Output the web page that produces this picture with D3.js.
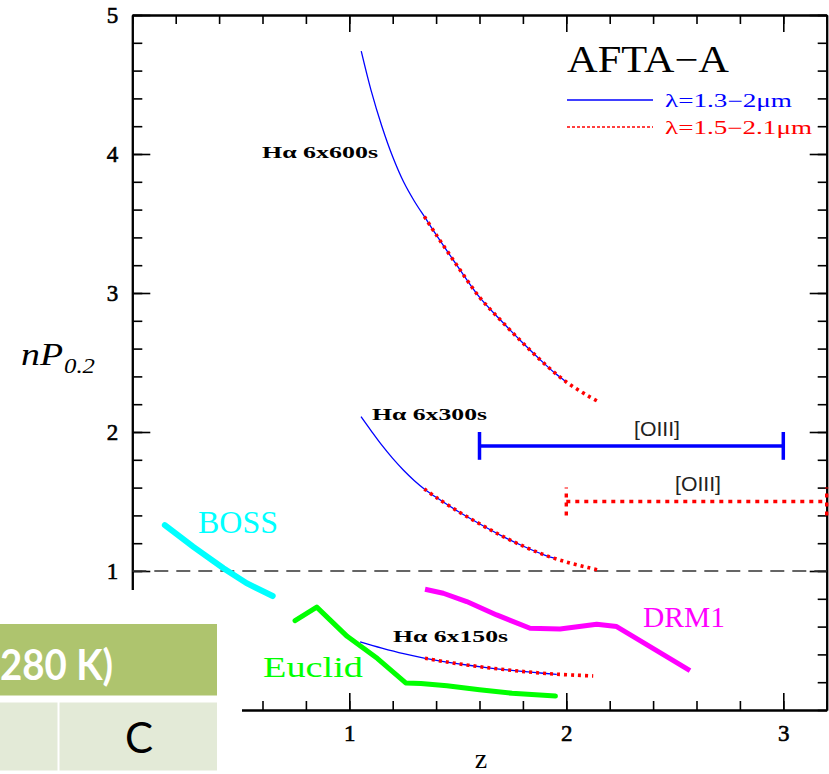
<!DOCTYPE html>
<html>
<head>
<meta charset="utf-8">
<script src="https://cdn.jsdelivr.net/npm/d3@7"></script>
<style>
  html, body { margin: 0; padding: 0; background: #fff; }
  svg { display: block; }
</style>
</head>
<body>
<svg id="chart" width="829" height="774"></svg>
<script>
// ---------------- data ----------------
const xDomain = [0, 3.2];
const yDomain = [0, 5];
const xMajorTicks = [1, 2, 3];
const yMajorTicks = [1, 2, 3, 4, 5];
const minorStep = 0.2;

// H-alpha curves: [z, nP0.2]
const ha600Blue = [[1.055,4.74],[1.10,4.46],[1.15,4.20],[1.20,3.98],[1.25,3.80],[1.30,3.66],[1.35,3.54],[1.40,3.42],[1.50,3.19],[1.60,2.97],[1.70,2.80],[1.80,2.64],[1.90,2.49],[1.95,2.42],[2.00,2.36]];
const ha600Red  = [[1.346,3.55],[1.40,3.42],[1.50,3.19],[1.60,2.97],[1.70,2.80],[1.80,2.64],[1.90,2.49],[2.00,2.36],[2.10,2.26],[2.146,2.22]];
const ha300Blue = [[1.054,2.11],[1.10,2.01],[1.15,1.905],[1.20,1.81],[1.25,1.725],[1.30,1.65],[1.35,1.585],[1.40,1.53],[1.50,1.43],[1.60,1.34],[1.70,1.255],[1.80,1.18],[1.90,1.115],[1.95,1.09]];
const ha300Red  = [[1.346,1.59],[1.40,1.53],[1.50,1.43],[1.60,1.34],[1.70,1.255],[1.80,1.18],[1.90,1.115],[2.00,1.065],[2.10,1.025],[2.147,1.008]];
const ha150Blue = [[1.05,0.49],[1.15,0.445],[1.25,0.405],[1.35,0.372],[1.45,0.345],[1.55,0.322],[1.65,0.302],[1.75,0.285],[1.85,0.27],[1.956,0.257]];
const ha150Red  = [[1.349,0.372],[1.45,0.345],[1.55,0.322],[1.65,0.302],[1.75,0.285],[1.85,0.27],[1.95,0.258],[2.05,0.25],[2.124,0.245]];

const boss   = [[0.15,1.33],[0.28,1.175],[0.42,1.02],[0.527,0.912],[0.647,0.82]];
const euclid = [[0.75,0.643],[0.85,0.74],[0.99,0.53],[1.13,0.37],[1.26,0.195],[1.33,0.19],[1.45,0.175],[1.60,0.145],[1.75,0.12],[1.95,0.10]];
const drm1   = [[1.349,0.869],[1.433,0.84],[1.541,0.78],[1.679,0.684],[1.833,0.588],[1.971,0.583],[2.14,0.617],[2.232,0.60],[2.309,0.528],[2.57,0.283]];

// [OIII] ranges: [zMin, zMax, level, capHalf]
const oiiiBlue = [1.6, 3.0, 1.9, 0.1];
const oiiiRed  = [2.0, 3.2, 1.5, 0.1];
const refLevel = 1;

// ---------------- layout ----------------
const svg = d3.select("#chart");
const x = d3.scaleLinear(xDomain, [132.3, 826.7]);
const y = d3.scaleLinear(yDomain, [710, 15]);
const minorX = d3.range(0, 3.2001, minorStep).map(v => +v.toFixed(2));
const minorY = d3.range(0, 5.0001, minorStep).map(v => +v.toFixed(2));

const serif = "'Liberation Serif', 'DejaVu Serif', serif";

function styleAxis(g) {
  g.select(".domain").attr("stroke", "#000").attr("stroke-width", 2);
  g.selectAll(".tick line").attr("stroke", "#000").attr("stroke-width", 1.6);
  g.selectAll(".tick text").attr("fill", "#000").attr("font-family", serif).attr("font-size", 23)
    .attr("stroke", "#000").attr("stroke-width", 0.6);
}

// minor ticks
svg.append("g").attr("transform", `translate(0,${y(0)})`)
  .call(d3.axisBottom(x).tickValues(minorX).tickSize(-9).tickSizeOuter(0).tickFormat(""))
  .call(styleAxis);
svg.append("g").attr("transform", `translate(0,${y(5)})`)
  .call(d3.axisTop(x).tickValues(minorX).tickSize(-9).tickSizeOuter(0).tickFormat(""))
  .call(styleAxis);
svg.append("g").attr("transform", `translate(${x(0)},0)`)
  .call(d3.axisLeft(y).tickValues(minorY).tickSize(-10).tickSizeOuter(0).tickFormat(""))
  .call(styleAxis);
svg.append("g").attr("transform", `translate(${x(3.2)},0)`)
  .call(d3.axisRight(y).tickValues(minorY).tickSize(-9).tickSizeOuter(0).tickFormat(""))
  .call(styleAxis);

// major ticks
svg.append("g").attr("transform", `translate(0,${y(0)})`)
  .call(d3.axisBottom(x).tickValues(xMajorTicks).tickSize(-17).tickSizeOuter(0).tickPadding(15).tickFormat(d3.format("d")))
  .call(styleAxis);
svg.append("g").attr("transform", `translate(0,${y(5)})`)
  .call(d3.axisTop(x).tickValues(xMajorTicks).tickSize(-17).tickSizeOuter(0).tickFormat(""))
  .call(styleAxis);
svg.append("g").attr("transform", `translate(${x(0)},0)`)
  .call(d3.axisLeft(y).tickValues(yMajorTicks).tickSize(-18).tickSizeOuter(0).tickPadding(14).tickFormat(d3.format("d")))
  .call(styleAxis);
svg.append("g").attr("transform", `translate(${x(3.2)},0)`)
  .call(d3.axisRight(y).tickValues(yMajorTicks).tickSize(-17).tickSizeOuter(0).tickFormat(""))
  .call(styleAxis);

// clip
svg.append("clipPath").attr("id", "plot")
  .append("rect").attr("x", x(0)).attr("y", y(5)).attr("width", x(3.2) - x(0) + 3).attr("height", y(0) - y(5));
const plot = svg.append("g").attr("clip-path", "url(#plot)");

// reference dashed line
plot.append("line")
  .attr("x1", x(0)).attr("x2", x(3.2)).attr("y1", y(refLevel)).attr("y2", y(refLevel))
  .attr("stroke", "#333").attr("stroke-width", 1.6).attr("stroke-dasharray", "14,8");

const smooth = d3.line().x(d => x(d[0])).y(d => y(d[1])).curve(d3.curveCatmullRom);
const straight = d3.line().x(d => x(d[0])).y(d => y(d[1]));

// survey curves
plot.append("path").attr("d", straight(boss)).attr("fill", "none")
  .attr("stroke", "#00FFFF").attr("stroke-width", 6).attr("stroke-linecap", "round");
plot.append("path").attr("d", straight(euclid)).attr("fill", "none")
  .attr("stroke", "#00FF00").attr("stroke-width", 5).attr("stroke-linejoin", "round").attr("stroke-linecap", "round");
plot.append("path").attr("d", straight(drm1)).attr("fill", "none")
  .attr("stroke", "#FF00FF").attr("stroke-width", 5).attr("stroke-linejoin", "round");

// H-alpha curves
[ha600Blue, ha300Blue, ha150Blue].forEach(s => {
  plot.append("path").attr("d", smooth(s)).attr("fill", "none")
    .attr("stroke", "#0000FF").attr("stroke-width", 1.3);
});
[ha600Red, ha300Red, ha150Red].forEach(s => {
  plot.append("path").attr("d", smooth(s)).attr("fill", "none")
    .attr("stroke", "#FF0000").attr("stroke-width", 3.6).attr("stroke-dasharray", "3,4");
});

// [OIII] ranges
function range(r, color, width, dash) {
  const [z0, z1, lv, h] = r;
  const g = plot.append("g").attr("stroke", color).attr("stroke-width", width).attr("fill", "none");
  if (dash) g.attr("stroke-dasharray", dash);
  g.append("line").attr("x1", x(z0)).attr("x2", x(z1)).attr("y1", y(lv)).attr("y2", y(lv));
  g.append("line").attr("x1", x(z0)).attr("x2", x(z0)).attr("y1", y(lv - h)).attr("y2", y(lv + h));
  g.append("line").attr("x1", x(z1)).attr("x2", x(z1)).attr("y1", y(lv - h)).attr("y2", y(lv + h));
}
range(oiiiBlue, "#0000FF", 3.5, null);
range(oiiiRed, "#FF0000", 3.4, "4,5");

// labels
const sans = "'Liberation Sans', Arimo, sans-serif";
function label(txt, xp, yp, opts) {
  const t = svg.append("text").attr("x", xp).attr("y", yp).text(txt)
    .attr("font-family", opts.font || serif).attr("font-size", opts.size)
    .attr("fill", opts.color || "#000");
  if (opts.weight) t.attr("font-weight", opts.weight);
  if (opts.anchor) t.attr("text-anchor", opts.anchor);
  if (opts.len) t.attr("textLength", opts.len).attr("lengthAdjust", "spacingAndGlyphs");
  if (opts.style) t.attr("font-style", opts.style);
  return t;
}
label("Hα 6x600s", 262, 158, {size: 16, weight: "bold", len: 116});
label("Hα 6x300s", 372, 420, {size: 16, weight: "bold", len: 115});
label("Hα 6x150s", 393, 642, {size: 16, weight: "bold", len: 115});
label("[OIII]", 657, 436, {size: 20, font: sans, color: "#222", anchor: "middle", len: 46});
label("[OIII]", 698, 491, {size: 20, font: sans, color: "#222", anchor: "middle", len: 46});
label("BOSS", 198, 533, {size: 31, color: "#00FFFF", len: 80});
label("Euclid", 263, 677, {size: 30, color: "#00FF00", len: 100});
label("DRM1", 643, 627, {size: 29, color: "#FF00FF", len: 82});

// legend
label("AFTA−A", 567, 72, {size: 37, len: 162});
svg.append("line").attr("x1", 567).attr("x2", 653).attr("y1", 100).attr("y2", 100)
  .attr("stroke", "#0000FF").attr("stroke-width", 1.5);
svg.append("line").attr("x1", 567).attr("x2", 653).attr("y1", 127).attr("y2", 127)
  .attr("stroke", "#FF0000").attr("stroke-width", 1.5).attr("stroke-dasharray", "3,2");
label("λ=1.3−2μm", 665, 107, {size: 18, color: "#0000FF", len: 127});
label("λ=1.5−2.1μm", 665, 134, {size: 18, color: "#FF0000", len: 147});

// axis titles
const yt = svg.append("text").attr("x", 21).attr("y", 365)
  .attr("font-family", serif).attr("font-style", "italic").attr("font-size", 31).attr("fill", "#000");
yt.append("tspan").text("nP").attr("textLength", 42).attr("lengthAdjust", "spacingAndGlyphs");
yt.append("tspan").text("0.2").attr("font-size", 21).attr("dy", 8).attr("dx", 1)
  .attr("textLength", 31).attr("lengthAdjust", "spacingAndGlyphs");
label("z", 481, 768, {size: 28, anchor: "middle"});

// pasted table fragment (bottom-left)
const ov = svg.append("g");
ov.append("rect").attr("x", 0).attr("y", 590).attr("width", 242).attr("height", 184).attr("fill", "#fff");
ov.append("rect").attr("x", 0).attr("y", 624).attr("width", 217).attr("height", 71.5).attr("fill", "#AEC46E");
ov.append("rect").attr("x", 0).attr("y", 702.5).attr("width", 57.5).attr("height", 68).attr("fill", "#E3EAD7");
ov.append("rect").attr("x", 59.5).attr("y", 702.5).attr("width", 157.5).attr("height", 68).attr("fill", "#E3EAD7");
ov.append("text").attr("x", 0).attr("y", 680).text("280 K)")
  .attr("font-family", "Lato, 'Open Sans', sans-serif").attr("font-weight", "bold")
  .attr("font-size", 42).attr("fill", "#fff").attr("textLength", 113).attr("lengthAdjust", "spacingAndGlyphs");
ov.append("text").attr("x", 139).attr("y", 753).text("C").attr("text-anchor", "middle")
  .attr("font-family", "Lato, 'Open Sans', sans-serif").attr("font-size", 42).attr("fill", "#000");
</script>
</body>
</html>
